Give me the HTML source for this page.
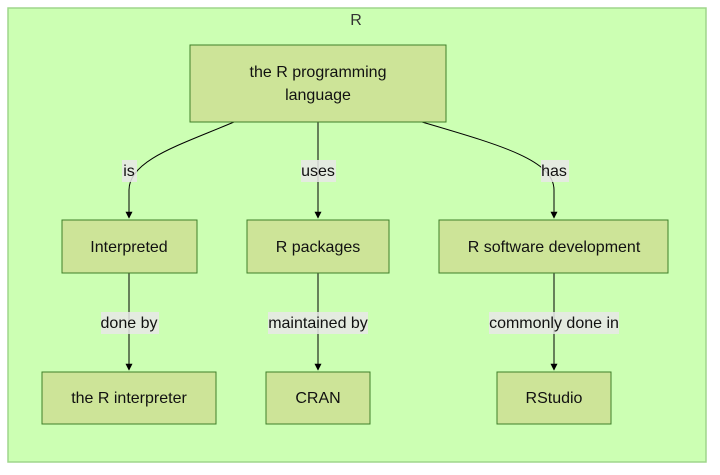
<!DOCTYPE html>
<html><head><style>body{margin:0;background:#fff}svg{display:block}text{font-family:"Liberation Sans",Arial,sans-serif;font-size:16px;fill:#111}</style></head><body>
<svg width="720" height="475" viewBox="0 0 720 475">
<defs><marker id="a" viewBox="0 0 10 10" refX="9" refY="5" markerWidth="7" markerHeight="7" orient="auto"><path d="M0,0L10,5L0,10z" fill="#000"/></marker></defs>
<rect x="8" y="8" width="698" height="454" fill="#ccffb3" stroke="#9fd68b" stroke-width="1.5"/>
<text x="356" y="25" text-anchor="middle" style="fill:#333">R</text>
<g fill="none" stroke="#000" stroke-width="1">
<path d="M234,122 C180,145 129,160 129,190 L129,218" marker-end="url(#a)"/>
<path d="M318,122 L318,218" marker-end="url(#a)"/>
<path d="M422,122 C500,145 554,160 554,190 L554,218" marker-end="url(#a)"/>
<path d="M129,273 L129,370" marker-end="url(#a)"/>
<path d="M318,273 L318,370" marker-end="url(#a)"/>
<path d="M554,273 L554,370" marker-end="url(#a)"/>
</g>
<g fill="#cde498" stroke="#3f7f2a" stroke-width="1">
<rect x="190" y="45" width="256" height="77"/>
<rect x="62" y="220" width="135" height="53"/>
<rect x="247" y="220" width="142" height="53"/>
<rect x="439" y="220" width="229" height="53"/>
<rect x="42" y="372" width="174" height="52"/>
<rect x="266" y="372" width="104" height="52"/>
<rect x="497" y="372" width="114" height="52"/>
</g>
<g fill="#e8e8e8" opacity="0.85">
<rect x="122" y="160" width="15" height="22"/>
<rect x="301" y="160" width="35" height="22"/>
<rect x="541" y="160" width="28" height="22"/>
<rect x="101" y="312" width="58" height="22"/>
<rect x="268" y="312" width="100" height="22"/>
<rect x="489" y="312" width="130" height="22"/>
</g>
<g text-anchor="middle">
<text x="318" y="77">the R programming</text>
<text x="318" y="100">language</text>
<text x="129" y="252">Interpreted</text>
<text x="318" y="252">R packages</text>
<text x="554" y="252">R software development</text>
<text x="129" y="403">the R interpreter</text>
<text x="318" y="403">CRAN</text>
<text x="554" y="403">RStudio</text>
<text x="129" y="176">is</text>
<text x="318" y="176">uses</text>
<text x="554" y="176">has</text>
<text x="129" y="328">done by</text>
<text x="318" y="328">maintained by</text>
<text x="554" y="328">commonly done in</text>
</g>
</svg>
</body></html>
